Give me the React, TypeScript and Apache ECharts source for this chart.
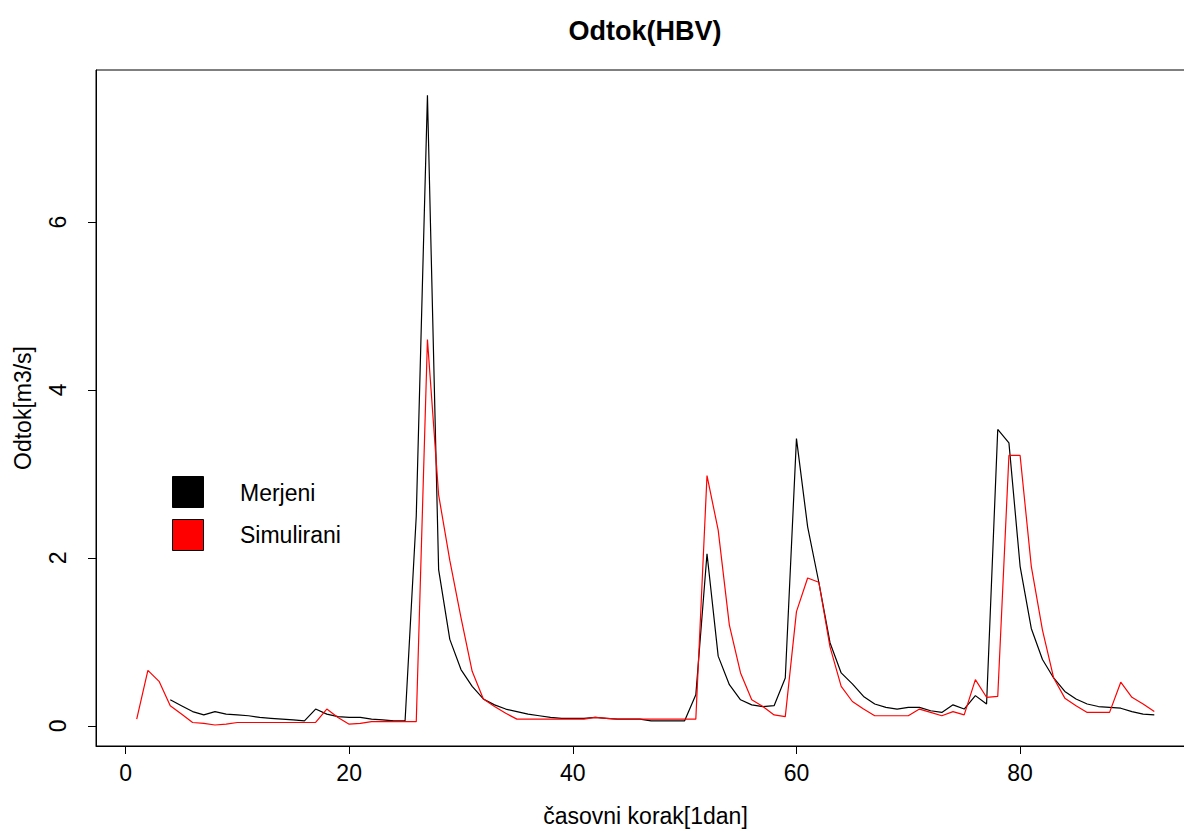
import React, { useEffect, useRef } from "react";
import * as echarts from "echarts";

// Time steps (days) 1..92
const days: number[] = Array.from({ length: 92 }, (_, i) => i + 1);

// Measured discharge (Merjeni), starts at day 4
const merjeni: (number | null)[] = [
  null, null, null, 0.31, 0.24, 0.17, 0.13, 0.17, 0.14, 0.13,
  0.12, 0.10, 0.09, 0.08, 0.07, 0.06, 0.20, 0.14, 0.11, 0.10,
  0.10, 0.08, 0.07, 0.06, 0.06, 2.5, 7.51, 1.86, 1.03, 0.67,
  0.47, 0.32, 0.25, 0.20, 0.17, 0.14, 0.12, 0.10, 0.09, 0.09,
  0.09, 0.10, 0.09, 0.08, 0.08, 0.08, 0.06, 0.06, 0.06, 0.06,
  0.37, 2.05, 0.83, 0.49, 0.31, 0.25, 0.23, 0.24, 0.57, 3.42,
  2.37, 1.71, 0.99, 0.63, 0.50, 0.35, 0.26, 0.22, 0.20, 0.22,
  0.22, 0.18, 0.16, 0.25, 0.20, 0.36, 0.26, 3.53, 3.37, 1.90,
  1.16, 0.79, 0.57, 0.41, 0.32, 0.26, 0.23, 0.22, 0.21, 0.17,
  0.14, 0.13,
];

// Simulated discharge (Simulirani)
const simulirani: number[] = [
  0.08, 0.66, 0.53, 0.24, 0.14, 0.04, 0.03, 0.01, 0.02, 0.04,
  0.04, 0.04, 0.04, 0.04, 0.04, 0.04, 0.04, 0.20, 0.10, 0.02,
  0.03, 0.05, 0.05, 0.05, 0.05, 0.05, 4.6, 2.75, 1.97, 1.29,
  0.65, 0.32, 0.23, 0.15, 0.08, 0.08, 0.08, 0.08, 0.08, 0.08,
  0.08, 0.10, 0.09, 0.08, 0.08, 0.08, 0.08, 0.08, 0.08, 0.08,
  0.08, 2.98, 2.33, 1.20, 0.63, 0.31, 0.23, 0.13, 0.11, 1.36,
  1.76, 1.71, 0.94, 0.47, 0.29, 0.20, 0.12, 0.12, 0.12, 0.12,
  0.20, 0.16, 0.12, 0.17, 0.13, 0.55, 0.34, 0.35, 3.22, 3.22,
  1.90, 1.14, 0.57, 0.33, 0.24, 0.16, 0.16, 0.16, 0.52, 0.34,
  0.26, 0.17,
];

const xTicks: number[] = [0, 20, 40, 60, 80];
const yTicks: number[] = [0, 2, 4, 6];
const legendNames: string[] = ["Merjeni", "Simulirani"];
const legendColors: string[] = ["#000000", "#FF0000"];

const FONT = "'Liberation Sans', Arial, Helvetica, sans-serif";

export default function App() {
  const ref = useRef<HTMLDivElement>(null);

  useEffect(() => {
    if (!ref.current) return;
    const chart = echarts.init(ref.current, null, { renderer: "svg" });
    const blackData = days.map((d, i) => [d, merjeni[i]]);
    const redData = days.map((d, i) => [d, simulirani[i]]);

    chart.setOption({
      animation: false,
      backgroundColor: "#ffffff",
      title: {
        text: "Odtok(HBV)",
        left: 640,
        top: 12,
        textAlign: "center",
        textStyle: { fontFamily: FONT, fontSize: 27, fontWeight: "bold", color: "#000" },
      },
      grid: {
        left: 96,
        top: 70,
        right: 5,
        bottom: 84,
        outerBoundsMode: "none",
        containLabel: false,
        show: true,
        borderColor: "#000",
        borderWidth: 1,
        backgroundColor: "transparent",
      },
      xAxis: {
        type: "value",
        min: -2.64,
        max: 95.64,
        name: "časovni korak[1dan]",
        nameLocation: "middle",
        nameGap: 58,
        nameTextStyle: { fontFamily: FONT, fontSize: 23, color: "#000" },
        splitLine: { show: false },
        axisLine: { show: true, onZero: false, lineStyle: { color: "#000", width: 1 } },
        axisTick: { show: true, length: 8, customValues: xTicks, lineStyle: { color: "#000" } },
        axisLabel: {
          customValues: xTicks,
          fontFamily: FONT,
          fontSize: 23,
          color: "#000",
          margin: 15,
        },
      },
      yAxis: {
        type: "value",
        min: -0.24,
        max: 7.81,
        name: "Odtok[m3/s]",
        nameLocation: "middle",
        nameGap: 62,
        nameRotate: 90,
        nameTextStyle: { fontFamily: FONT, fontSize: 23, color: "#000" },
        splitLine: { show: false },
        axisLine: { show: true, onZero: false, lineStyle: { color: "#000", width: 1 } },
        axisTick: { show: true, length: 8, customValues: yTicks, lineStyle: { color: "#000" } },
        axisLabel: {
          customValues: yTicks,
          rotate: 90,
          fontFamily: FONT,
          fontSize: 23,
          color: "#000",
          margin: 27,
        },
      },
      series: [
        {
          name: legendNames[0],
          type: "line",
          data: blackData,
          showSymbol: false,
          connectNulls: false,
          lineStyle: { color: legendColors[0], width: 1.2 },
          itemStyle: { color: legendColors[0] },
        },
        {
          name: legendNames[1],
          type: "line",
          data: redData,
          showSymbol: false,
          lineStyle: { color: legendColors[1], width: 1.2 },
          itemStyle: { color: legendColors[1] },
        },
      ],
      graphic: [
        {
          type: "rect",
          shape: { x: 172.5, y: 476.5, width: 31, height: 31 },
          style: { fill: legendColors[0], stroke: "#000", lineWidth: 1 },
        },
        {
          type: "rect",
          shape: { x: 172.5, y: 519.5, width: 31, height: 31 },
          style: { fill: legendColors[1], stroke: "#000", lineWidth: 1 },
        },
        {
          type: "text",
          x: 240,
          y: 493,
          style: {
            text: legendNames[0],
            fontFamily: FONT,
            fontSize: 23,
            fill: "#000",
            verticalAlign: "middle",
          },
        },
        {
          type: "text",
          x: 240,
          y: 535,
          style: {
            text: legendNames[1],
            fontFamily: FONT,
            fontSize: 23,
            fill: "#000",
            verticalAlign: "middle",
          },
        },
      ],
    });

    return () => {
      chart.dispose();
    };
  }, []);

  return (
    <div
      style={{
        position: "absolute",
        left: 0,
        top: 0,
        width: 1184,
        height: 830,
        overflow: "hidden",
        background: "#fff",
      }}
    >
      <div ref={ref} style={{ width: 1200, height: 830 }} />
    </div>
  );
}
